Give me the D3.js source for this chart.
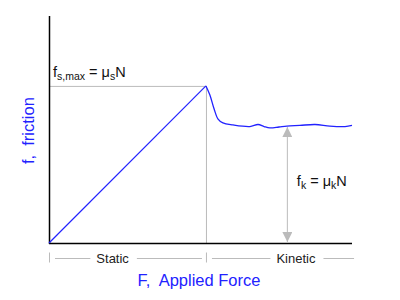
<!DOCTYPE html>
<html>
<head>
<meta charset="utf-8">
<script src="https://cdn.jsdelivr.net/npm/d3@7"></script>
<style>
  body { margin: 0; background: #fff; }
  text { font-family: "Liberation Sans", Arial, sans-serif; }
</style>
</head>
<body>
<svg id="chart" width="400" height="300"></svg>
<script>
// applied force vs friction, arbitrary units 0..100
const staticForce = [0, 51.8];
const staticFriction = [0, 69.2];
const kineticForce = [51.8, 53.1, 54.5, 55.8, 57.4, 60.7, 66.3, 69.0, 71.0, 72.9, 75.9, 78.5, 82.8, 87.8, 92.7, 97.7, 100];
const kineticFriction = [69.2, 65.2, 59.0, 54.6, 52.9, 52.0, 51.3, 52.2, 51.3, 50.7, 51.1, 51.5, 51.8, 52.2, 51.5, 51.3, 51.8];
const kineticLevel = 51.5;
const arrowAt = 78.5;
const regionLabels = ["Static", "Kinetic"];
const regionLabelAt = [21, 81.5];

const svg = d3.select("#chart");
const margin = {left: 49, right: 48, top: 16, bottom: 57};
const width = 400 - margin.left - margin.right;
const height = 300 - margin.top - margin.bottom;

const x = d3.scaleLinear().domain([0, 100]).range([margin.left, margin.left + width]);
const y = d3.scaleLinear().domain([0, 100]).range([margin.top + height, margin.top]);

const grey = "#bbbbbb";
const blue = "#2222ff";

const peakX = staticForce[1], peakY = staticFriction[1];

// guides to the peak
svg.append("line")
    .attr("x1", x(0)).attr("x2", x(peakX))
    .attr("y1", y(peakY) + 0.5).attr("y2", y(peakY) + 0.5)
    .attr("stroke", grey).attr("stroke-width", 1);
svg.append("line")
    .attr("x1", x(peakX) + 0.5).attr("x2", x(peakX) + 0.5)
    .attr("y1", y(peakY)).attr("y2", y(0))
    .attr("stroke", grey).attr("stroke-width", 1);

// arrow for kinetic level
const defs = svg.append("defs");
defs.append("marker")
    .attr("id", "head")
    .attr("viewBox", "0 0 10 10")
    .attr("refX", 10).attr("refY", 5)
    .attr("markerWidth", 10).attr("markerHeight", 10)
    .attr("markerUnits", "userSpaceOnUse")
    .attr("orient", "auto-start-reverse")
    .append("path")
    .attr("d", "M0,0 L10,5 L0,10 Z")
    .attr("fill", grey);

svg.append("line")
    .attr("x1", x(arrowAt) + 0.5).attr("x2", x(arrowAt) + 0.5)
    .attr("y1", y(kineticLevel) + 1).attr("y2", y(0) - 1)
    .attr("stroke", grey).attr("stroke-width", 1)
    .attr("marker-start", "url(#head)")
    .attr("marker-end", "url(#head)");

// axes
svg.append("line")
    .attr("x1", x(0) + 0.5).attr("x2", x(0) + 0.5)
    .attr("y1", margin.top).attr("y2", y(0) + 1)
    .attr("stroke", "#000").attr("stroke-width", 1.5);
svg.append("line")
    .attr("x1", x(0)).attr("x2", x(100))
    .attr("y1", y(0) + 0.5).attr("y2", y(0) + 0.5)
    .attr("stroke", "#000").attr("stroke-width", 1.5);

// friction curve
const line = d3.line().x(d => x(d[0])).y(d => y(d[1]));
svg.append("path")
    .attr("d", line(d3.zip(staticForce, staticFriction)))
    .attr("fill", "none").attr("stroke", blue).attr("stroke-width", 1.2);
svg.append("path")
    .attr("d", line.curve(d3.curveCatmullRom)(d3.zip(kineticForce, kineticFriction)))
    .attr("fill", "none").attr("stroke", blue).attr("stroke-width", 1.3);

// region brackets under the axis
const by = y(0) + 15.5;
const regions = [
    {label: regionLabels[0], at: regionLabelAt[0], from: 0, to: peakX},
    {label: regionLabels[1], at: regionLabelAt[1], from: peakX, to: 102}
];
[0, peakX].forEach(v => {
    svg.append("line")
        .attr("x1", x(v) + 0.5).attr("x2", x(v) + 0.5)
        .attr("y1", by - 6).attr("y2", by + 4)
        .attr("stroke", grey);
});
regions.forEach(r => {
    const cx = x(r.at);
    const t = svg.append("text")
        .attr("x", cx).attr("y", by + 4.5)
        .attr("text-anchor", "middle")
        .attr("font-size", 13)
        .attr("fill", "#222")
        .text(r.label);
    const w = t.node().getComputedTextLength();
    svg.append("line")
        .attr("x1", x(r.from) + 6).attr("x2", cx - w / 2 - 6)
        .attr("y1", by).attr("y2", by).attr("stroke", grey);
    svg.append("line")
        .attr("x1", cx + w / 2 + 8).attr("x2", x(r.to) - 4)
        .attr("y1", by).attr("y2", by).attr("stroke", grey);
});

// axis titles
svg.append("text")
    .attr("x", 199).attr("y", 286)
    .attr("text-anchor", "middle")
    .attr("font-size", 16.5)
    .attr("fill", blue)
    .attr("xml:space", "preserve")
    .text("F,  Applied Force");
svg.append("text")
    .attr("transform", `translate(34,${y(49.5)}) rotate(-90)`)
    .attr("text-anchor", "middle")
    .attr("font-size", 16.5)
    .attr("fill", blue)
    .attr("xml:space", "preserve")
    .text("f,  friction");

// formula labels
function formula(xp, yp, parts) {
    const t = svg.append("text")
        .attr("x", xp).attr("y", yp)
        .attr("font-size", 14.5)
        .attr("fill", "#111")
        .attr("xml:space", "preserve");
    parts.forEach(p => {
        const s = t.append("tspan").text(p[0]);
        if (p[1]) s.attr("font-size", 10.5).attr("dy", 3);
        else if (p[2]) s.attr("dy", -3);
    });
}
formula(x(0) + 4, y(peakY) - 9, [["f"], ["s,max", true], [" = \u03bc", false, true], ["s", true], ["N", false, true]]);
formula(x(arrowAt) + 10, 186, [["f"], ["k", true], [" = \u03bc", false, true], ["k", true], ["N", false, true]]);
</script>
</body>
</html>
